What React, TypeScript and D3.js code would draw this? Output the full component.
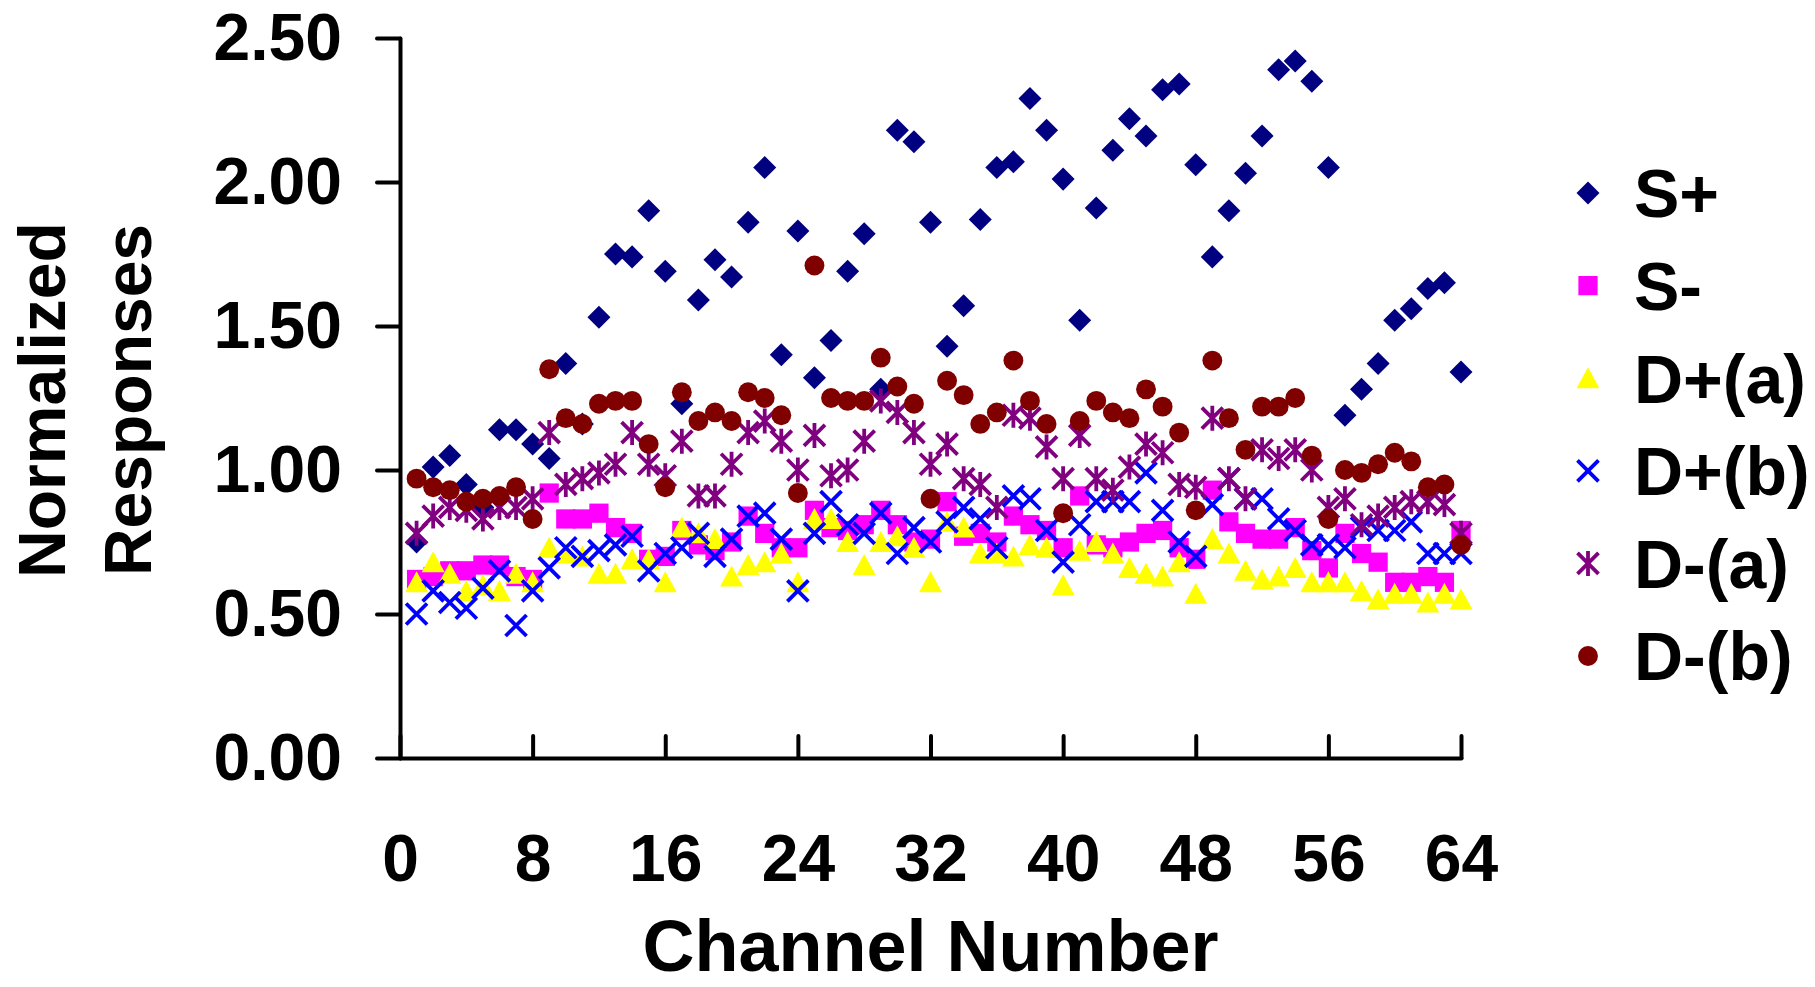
import React, { useEffect, useRef } from "react";
import * as d3 from "d3";

// values per channel 1..64
const sPlus = [
  0.75, 1.01, 1.05, 0.95, 0.87, 1.14, 1.14, 1.09, 1.04, 1.37, 1.16, 1.53, 1.75, 1.74, 1.9, 1.69,
  1.23, 1.59, 1.73, 1.67, 1.86, 2.05, 1.4, 1.83, 1.32, 1.45, 1.69, 1.82, 1.28, 2.18, 2.14, 1.86,
  1.43, 1.57, 1.87, 2.05, 2.07, 2.29, 2.18, 2.01, 1.52, 1.91, 2.11, 2.22, 2.16, 2.32, 2.34, 2.06,
  1.74, 1.9, 2.03, 2.16, 2.39, 2.42, 2.35, 2.05, 1.19, 1.28, 1.37, 1.52, 1.56, 1.63, 1.65, 1.34,
];
const sMinus = [
  0.62, 0.63, 0.65, 0.65, 0.67, 0.67, 0.63, 0.62, 0.92, 0.83, 0.83, 0.85, 0.8, 0.78, 0.69, 0.7,
  0.79, 0.74, 0.72, 0.75, 0.84, 0.78, 0.73, 0.73, 0.86, 0.8, 0.79, 0.81, 0.86, 0.81, 0.75, 0.76,
  0.89, 0.77, 0.78, 0.75, 0.84, 0.81, 0.79, 0.73, 0.91, 0.74, 0.73, 0.75, 0.78, 0.79, 0.73, 0.69,
  0.93, 0.82, 0.78, 0.76, 0.76, 0.8, 0.72, 0.66, 0.78, 0.71, 0.68, 0.61, 0.61, 0.63, 0.61, 0.79,
];
const dPlusA = [
  0.61, 0.68, 0.64, 0.58, 0.6, 0.58, 0.64, 0.61, 0.73, 0.71, 0.7, 0.64, 0.64, 0.69, 0.69, 0.61,
  0.8, 0.78, 0.76, 0.63, 0.67, 0.68, 0.71, 0.61, 0.83, 0.83, 0.75, 0.67, 0.75, 0.77, 0.73, 0.61,
  0.82, 0.8, 0.71, 0.71, 0.7, 0.74, 0.73, 0.6, 0.72, 0.75, 0.71, 0.66, 0.64, 0.63, 0.68, 0.57,
  0.76, 0.71, 0.65, 0.62, 0.63, 0.66, 0.61, 0.61, 0.61, 0.58, 0.55, 0.57, 0.57, 0.54, 0.57, 0.55,
];
const dPlusB = [
  0.5, 0.58, 0.54, 0.52, 0.59, 0.65, 0.46, 0.58, 0.66, 0.73, 0.7, 0.72, 0.74, 0.77, 0.65, 0.71,
  0.73, 0.78, 0.7, 0.76, 0.84, 0.85, 0.76, 0.58, 0.78, 0.89, 0.81, 0.78, 0.85, 0.71, 0.8, 0.75,
  0.82, 0.87, 0.83, 0.73, 0.91, 0.9, 0.79, 0.68, 0.81, 0.89, 0.89, 0.89, 0.99, 0.86, 0.75, 0.7,
  0.88, 0.97, 0.9, 0.9, 0.83, 0.79, 0.74, 0.74, 0.73, 0.8, 0.79, 0.79, 0.82, 0.71, 0.71, 0.71,
];
const dMinusA = [
  0.78, 0.84, 0.87, 0.86, 0.83, 0.87, 0.87, 0.9, 1.13, 0.95, 0.97, 0.99, 1.02, 1.13, 1.02, 0.98,
  1.1, 0.91, 0.91, 1.02, 1.13, 1.17, 1.1, 1.0, 1.12, 0.98, 1.0, 1.1, 1.24, 1.2, 1.13, 1.02,
  1.09, 0.97, 0.95, 0.87, 1.19, 1.18, 1.08, 0.97, 1.12, 0.97, 0.93, 1.01, 1.09, 1.06, 0.95, 0.94,
  1.18, 0.97, 0.9, 1.07, 1.04, 1.07, 1.0, 0.87, 0.9, 0.81, 0.84, 0.87, 0.89, 0.89, 0.88, 0.78,
];
const dMinusB = [
  0.97, 0.94, 0.93, 0.89, 0.9, 0.91, 0.94, 0.83, 1.35, 1.18, 1.16, 1.23, 1.24, 1.24, 1.09, 0.94,
  1.27, 1.17, 1.2, 1.17, 1.27, 1.25, 1.19, 0.92, 1.71, 1.25, 1.24, 1.24, 1.39, 1.29, 1.23, 0.9,
  1.31, 1.26, 1.16, 1.2, 1.38, 1.24, 1.16, 0.85, 1.17, 1.24, 1.2, 1.18, 1.28, 1.22, 1.13, 0.86,
  1.38, 1.18, 1.07, 1.22, 1.22, 1.25, 1.05, 0.83, 1.0, 0.99, 1.02, 1.06, 1.03, 0.94, 0.95, 0.74,
];

const seriesNames = ["S+", "S-", "D+(a)", "D+(b)", "D-(a)", "D-(b)"];
const seriesColors = ["#000080", "#ff00ff", "#ffff00", "#0000ff", "#800080", "#800000"];
const seriesShapes = ["diamond", "square", "triangle", "x", "asterisk", "circle"];

const xTicks = [0, 8, 16, 24, 32, 40, 48, 56, 64];
const yTicks = [0, 0.5, 1, 1.5, 2, 2.5];

const FONT = "'Liberation Sans', Arial, sans-serif";
const W = 1815;
const H = 987;

// marker outline for each shape, centred on the point
const shapePath = (shape: string) => {
  switch (shape) {
    case "diamond":
      return d3.symbol().type(d3.symbolSquare).size(265)();
    case "square":
      return d3.symbol().type(d3.symbolSquare).size(370)();
    case "circle":
      return d3.symbol().type(d3.symbolCircle).size(310)();
    case "triangle":
      return "M0,-11L11.5,10L-11.5,10Z";
    case "x":
      return "M-10.5,-10.5L10.5,10.5M-10.5,10.5L10.5,-10.5";
    default:
      return "M-10.5,-10.5L10.5,10.5M-10.5,10.5L10.5,-10.5M0,-12.5V12.5";
  }
};

const styleMarker = (sel: any, shape: string, color: string) => {
  if (shape === "x" || shape === "asterisk") {
    sel.attr("fill", "none").attr("stroke", color).attr("stroke-width", 3.8);
  } else {
    sel.attr("fill", color).attr("stroke", "none");
  }
};

export default function App() {
  const svgRef = useRef<SVGSVGElement>(null);

  useEffect(() => {
    const svg = d3.select(svgRef.current);
    svg.selectAll("*").remove();

    const x = d3.scaleLinear().domain([0, 64]).range([400, 1461]);
    const y = d3.scaleLinear().domain([0, 2.5]).range([758, 38]);

    const series = [sPlus, sMinus, dPlusA, dPlusB, dMinusA, dMinusB].map((values, i) => ({
      name: seriesNames[i],
      values,
      color: seriesColors[i],
      shape: seriesShapes[i],
    }));

    // points, first series at the bottom
    series.forEach((s) => {
      const pts = svg
        .append("g")
        .selectAll("path")
        .data(s.values)
        .enter()
        .append("path")
        .attr(
          "transform",
          (d, i) => `translate(${x(i + 1)},${y(d)})` + (s.shape === "diamond" ? " rotate(45)" : "")
        )
        .attr("d", shapePath(s.shape));
      styleMarker(pts, s.shape, s.color);
    });

    // y axis
    const yAxis = svg
      .append("g")
      .attr("transform", `translate(${x(0)},0)`)
      .call(
        d3
          .axisLeft(y)
          .tickValues(yTicks)
          .tickFormat(d3.format(".2f"))
          .tickSizeInner(23)
          .tickSizeOuter(0)
          .tickPadding(35)
      );

    // x axis, ticks pointing inward
    const xAxis = svg
      .append("g")
      .attr("transform", `translate(0,${y(0)})`)
      .call(
        d3
          .axisBottom(x)
          .tickValues(xTicks)
          .tickFormat(d3.format("d"))
          .tickSizeInner(-22)
          .tickSizeOuter(0)
          .tickPadding(76)
      );

    [yAxis, xAxis].forEach((ax) => {
      ax.selectAll(".domain, .tick line")
        .attr("stroke", "#000")
        .attr("stroke-width", 4)
        .attr("stroke-linecap", "round");
      ax.selectAll("text")
        .attr("fill", "#000")
        .attr("font-family", FONT)
        .attr("font-weight", "bold")
        .attr("font-size", 66);
    });

    // axis titles
    svg
      .append("text")
      .attr("x", (x(0) + x(64)) / 2)
      .attr("y", 971)
      .attr("text-anchor", "middle")
      .attr("font-family", FONT)
      .attr("font-weight", "bold")
      .attr("font-size", 72)
      .text("Channel Number");

    const yTitle = ["Normalized", "Responses"];
    svg
      .append("g")
      .selectAll("text")
      .data(yTitle)
      .enter()
      .append("text")
      .attr("transform", (d, i) => `translate(${65 + i * 86},${(y(0) + y(2.5)) / 2 + 2}) rotate(-90)`)
      .attr("text-anchor", "middle")
      .attr("font-family", FONT)
      .attr("font-weight", "bold")
      .attr("font-size", 66)
      .text((d) => d);

    // legend
    const legend = svg
      .append("g")
      .selectAll("g")
      .data(series)
      .enter()
      .append("g")
      .attr("transform", (d, i) => `translate(1588,${193 + i * 92.6})`);

    legend.each(function (s) {
      const g = d3.select(this);
      const m = g
        .append("path")
        .attr("transform", s.shape === "diamond" ? "rotate(45)" : null)
        .attr("d", shapePath(s.shape));
      styleMarker(m, s.shape, s.color);
      g.append("text")
        .attr("x", 46)
        .attr("dy", "0.36em")
        .attr("font-family", FONT)
        .attr("font-weight", "bold")
        .attr("font-size", 68)
        .text(s.name);
    });
  }, []);

  return (
    <svg
      ref={svgRef}
      width={W}
      height={H}
      style={{ position: "absolute", left: 0, top: 0, background: "#fff" }}
    ></svg>
  );
}
